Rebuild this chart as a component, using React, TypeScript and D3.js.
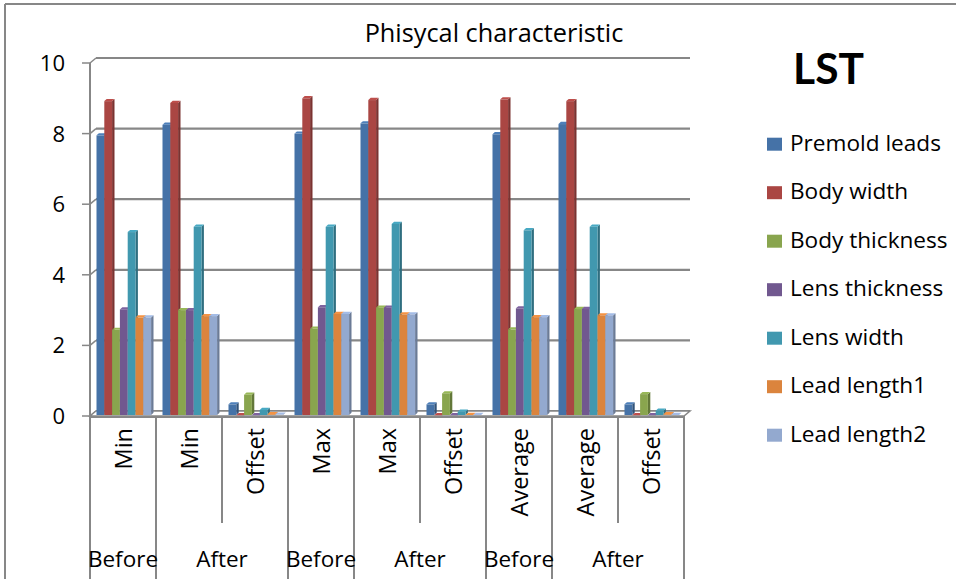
import React from "react";
import * as d3 from "d3";

const categories = ["Min", "Min", "Offset", "Max", "Max", "Offset", "Average", "Average", "Offset"];
const groupLabels = ["Before", "After", "Before", "After", "Before", "After"];
const groupSizes = [1, 2, 1, 2, 1, 2];
const seriesNames = ["Premold leads", "Body width", "Body thickness", "Lens thickness", "Lens width", "Lead length1", "Lead length2"];

const premoldLeads = [7.95, 8.25, 0.33, 8.0, 8.29, 0.33, 7.98, 8.27, 0.33];
const bodyWidth = [8.92, 8.87, 0.02, 9.0, 8.95, 0.02, 8.97, 8.92, 0.02];
const bodyThickness = [2.44, 3.0, 0.6, 2.47, 3.07, 0.64, 2.45, 3.03, 0.62];
const lensThickness = [3.02, 3.0, 0.02, 3.08, 3.07, 0.02, 3.05, 3.03, 0.02];
const lensWidth = [5.21, 5.36, 0.17, 5.36, 5.44, 0.12, 5.26, 5.36, 0.15];
const leadLength1 = [2.79, 2.83, 0.05, 2.89, 2.88, 0.03, 2.8, 2.85, 0.05];
const leadLength2 = [2.79, 2.83, 0.04, 2.89, 2.88, 0.03, 2.8, 2.85, 0.03];

const seriesValues = [premoldLeads, bodyWidth, bodyThickness, lensThickness, lensWidth, leadLength1, leadLength2];
const seriesColors = ["#4572A7", "#AA4643", "#89A54E", "#71588F", "#4198AF", "#DB843D", "#93A9CF"];
const yTicks = [0, 2, 4, 6, 8, 10];

const FONT = "'Open Sans', sans-serif";
const GRID = "#878787";

export default function App() {
  const W = 956, H = 579;
  const y = d3.scaleLinear().domain([0, 10]).range([416, 63]);
  const x = d3.scaleBand<number>().domain(categories.map((_, i) => i)).range([90, 684]);
  const xs = d3.scaleBand<string>().domain(seriesNames).range([6.5, 61.1]);
  const DX = 6, DY = -5;
  const bdx = 2.4, bdy = -2.2;
  const base = 415;
  const x0 = 90, x1 = 684;

  const bars: JSX.Element[] = [];
  categories.forEach((_, ci) => {
    seriesNames.forEach((s, si) => {
      const v = seriesValues[si][ci];
      const bx = (x(ci) as number) + (xs(s) as number);
      const w = xs.bandwidth();
      const top = y(v);
      const col = d3.color(seriesColors[si])!;
      const side = col.darker(0.9).toString();
      const topc = col.brighter(0.3).toString();
      bars.push(
        <g key={`${ci}-${si}`}>
          <polygon
            points={`${bx + w},${top} ${bx + w + bdx},${top + bdy} ${bx + w + bdx},${base + bdy} ${bx + w},${base}`}
            fill={side}
          />
          <polygon
            points={`${bx},${top} ${bx + bdx},${top + bdy} ${bx + w + bdx},${top + bdy} ${bx + w},${top}`}
            fill={topc}
          />
          <rect x={bx} y={top} width={w} height={Math.max(0, base - top)} fill={seriesColors[si]} />
        </g>
      );
    });
  });

  const outerIdx: number[] = [0];
  groupSizes.reduce((acc, g) => {
    outerIdx.push(acc + g);
    return acc + g;
  }, 0);
  const step = x.step();
  const groupStarts: number[] = [];
  groupSizes.reduce((acc, g) => {
    groupStarts.push(acc);
    return acc + g;
  }, 0);

  return (
    <svg width={W} height={H} style={{ position: "absolute", left: 0, top: 0, background: "#fff" }}>
      <rect x={0} y={0} width={W} height={H} fill="#fff" />
      <line x1={5} y1={4} x2={W} y2={4} stroke={GRID} strokeWidth={2} />
      <line x1={5} y1={4} x2={5} y2={H} stroke={GRID} strokeWidth={2} />

      <text x={494} y={42} fontFamily={FONT} fontSize={25.3} textAnchor="middle" fill="#000">
        Phisycal characteristic
      </text>

      {yTicks.map((t) => (
        <g key={`g${t}`}>
          <line x1={x0 + DX} y1={y(t) + DY} x2={x1 + DX} y2={y(t) + DY} stroke={GRID} strokeWidth={2.2} />
          <line x1={x0} y1={y(t)} x2={x0 + DX} y2={y(t) + DY} stroke={GRID} strokeWidth={1.5} />
          <line x1={82} y1={y(t)} x2={x0} y2={y(t)} stroke={GRID} strokeWidth={1.5} />
          <text x={65} y={y(t)} dy="0.36em" fontFamily={FONT} fontSize={22} textAnchor="end" fill="#000">
            {t}
          </text>
        </g>
      ))}
      <line x1={x0} y1={y(10)} x2={x0} y2={y(0)} stroke={GRID} strokeWidth={2} />
      <polygon
        points={`${x0},${y(0)} ${x1},${y(0)} ${x1 + DX},${y(0) + DY} ${x0 + DX},${y(0) + DY}`}
        fill="#fff"
        stroke={GRID}
        strokeWidth={1.5}
      />

      {bars}

      <line x1={x0} y1={y(0) + 1} x2={x1} y2={y(0) + 1} stroke={GRID} strokeWidth={2} />

      {d3.range(categories.length + 1).map((k) => {
        const isOuter = outerIdx.includes(k);
        const xx = x0 + k * step;
        return (
          <line key={`s${k}`} x1={xx} y1={y(0)} x2={xx} y2={isOuter ? H : 523} stroke={GRID} strokeWidth={2} />
        );
      })}

      {categories.map((c, i) => {
        const cx = (x(i) as number) + x.bandwidth() / 2 + 1;
        return (
          <text
            key={`c${i}`}
            transform={`translate(${cx},428) rotate(-90)`}
            textAnchor="end"
            dy="0.36em"
            fontFamily={FONT}
            fontSize={23.5}
            fill="#000"
          >
            {c}
          </text>
        );
      })}

      {groupLabels.map((g, i) => {
        const cx = x0 + (groupStarts[i] + groupSizes[i] / 2) * step;
        return (
          <text key={`o${i}`} x={cx} y={567} textAnchor="middle" fontFamily={FONT} fontSize={22.5} fill="#000">
            {g}
          </text>
        );
      })}

      <text x={828.5} y={84} textAnchor="middle" fontFamily="Lato, sans-serif" fontWeight="bold" fontSize={42.5} fill="#000">
        LST
      </text>

      {seriesNames.map((s, i) => {
        const yb = 150.7 + i * 48.5;
        return (
          <g key={`l${i}`}>
            <rect x={767} y={yb - 13} width={15} height={13} fill={seriesColors[i]} />
            <text x={790} y={yb} fontFamily={FONT} fontSize={22.6} fill="#000">
              {s}
            </text>
          </g>
        );
      })}
    </svg>
  );
}
